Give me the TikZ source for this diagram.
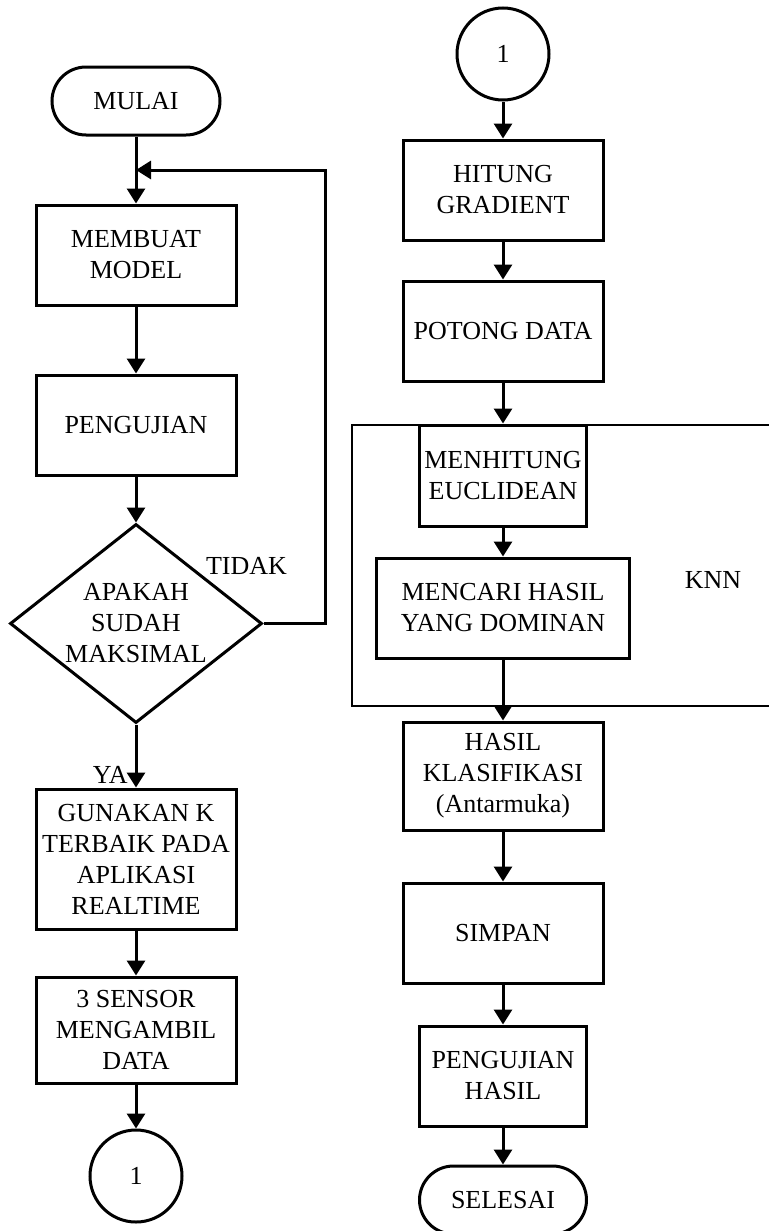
\documentclass[tikz,border=0pt]{standalone}
\usepackage{fontspec}
\setmainfont{Liberation Serif}
\usetikzlibrary{shapes.geometric,arrows.meta,positioning,calc}
\tikzset{pb/.style={draw,line width=1.5pt,align=center,minimum width=100pt,minimum height=50pt,inner sep=2pt},
 tm/.style={draw,line width=1.5pt,rounded corners=17pt,align=center,minimum width=84pt,minimum height=34pt,inner sep=2pt},
 cn/.style={draw,circle,line width=1.5pt,minimum size=46pt,inner sep=0pt},
 dc/.style={draw,diamond,line width=1.5pt,align=center,minimum width=126pt,minimum height=99.5pt,inner sep=-4pt,aspect=1.27},
 ar/.style={line width=1.5pt,-{Triangle[length=7.5pt,width=9pt]}},
 lb/.style={inner sep=0pt},grp/.style={line width=0.8pt}}

\begin{document}
\begin{tikzpicture}[every node/.style={font=\fontsize{13pt}{15.5pt}\selectfont}]
\useasboundingbox (0,0) rectangle (384pt,-615.5pt);
% kolom kiri
\node[tm](mulai) at (68pt,-50.5pt){MULAI};
\node[pb,below=33.5pt of mulai](membuat){MEMBUAT\\MODEL};
\node[pb,below=33.5pt of membuat](uji){PENGUJIAN};
\node[dc,below=23pt of uji](dec){APAKAH\\SUDAH\\MAKSIMAL};
\node[pb,below=31.5pt of dec,minimum height=70pt](gun){GUNAKAN K\\TERBAIK PADA\\APLIKASI\\REALTIME};
\node[pb,below=22.5pt of gun,minimum height=53pt](sensor){3 SENSOR\\MENGAMBIL\\DATA};
\node[cn,below=22pt of sensor](cA){1};
% kolom kanan
\node[cn](cB) at (251.5pt,-27pt){1};
\node[pb,below=18.5pt of cB](hitung){HITUNG\\GRADIENT};
\node[pb,below=19pt of hitung](potong){POTONG DATA};
\node[pb,below=20.5pt of potong,minimum width=83.5pt,minimum height=50.5pt](euc){MENHITUNG\\EUCLIDEAN};
\node[pb,below=14.5pt of euc,minimum width=126.5pt](cari){MENCARI HASIL\\YANG DOMINAN};
\node[pb,below=30.5pt of cari,minimum height=54pt](hasil){HASIL\\KLASIFIKASI\\(Antarmuka)};
\node[pb,below=25pt of hasil](simpan){SIMPAN};
\node[pb,below=20pt of simpan,minimum width=83.5pt](ujih){PENGUJIAN\\HASIL};
\node[tm,below=18.5pt of ujih,minimum width=83.5pt](selesai){SELESAI};
% label
\node[lb](tidak) at ([shift={(-8.5pt,29pt)}]dec.east){TIDAK};
\node[lb,anchor=base east](ya) at ([shift={(-4pt,2pt)}]gun.north){YA};
\node[lb](knn) at (356.5pt,-290pt){KNN};
\draw[grp] (176pt,-212.5pt) rectangle (400pt,-353pt);
% panah
\foreach\x/\y in {mulai/membuat,membuat/uji,uji/dec,dec/gun,gun/sensor,sensor/cA,cB/hitung,hitung/potong,potong/euc,euc/cari,cari/hasil,hasil/simpan,simpan/ujih,ujih/selesai}{\draw[ar](\x)--(\y);}
\coordinate (lp) at ($(mulai.south)!0.5!(membuat.north)$);
\draw[ar](dec.east)--++(31pt,0)|-(lp);
\end{tikzpicture}
\end{document}
